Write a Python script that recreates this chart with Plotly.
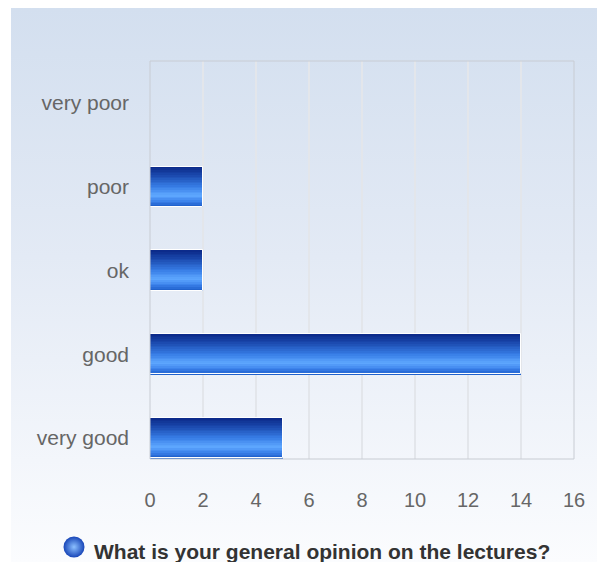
import plotly.graph_objects as go

# ---- data ----
categories = ["very good", "good", "ok", "poor", "very poor"]
counts = [5, 14, 2, 2, 0]
x_ticks = [0, 2, 4, 6, 8, 10, 12, 14, 16]
title_text = "What is your general opinion on the lectures?"

W, H = 597, 562
positions = list(range(len(categories)))

fig = go.Figure()

# ---- background panel with vertical gradient (pixel coordinate helper axes) ----
fig.add_trace(go.Scatter(
    x=[11, 597, 597, 11, 11], y=[8, 8, 562, 562, 8],
    fill="toself", mode="lines", line=dict(width=0),
    fillgradient=dict(type="vertical",
                      colorscale=[[0, "#fbfcfe"], [0.55, "#e3eaf5"], [1, "#d3dfef"]]),
    hoverinfo="skip", showlegend=False, xaxis="x", yaxis="y"))

# legend-like sphere icon next to the title
fig.add_trace(go.Scatter(
    x=[74], y=[547], mode="markers",
    marker=dict(size=21, color="#1846b8",
                gradient=dict(type="radial", color="#8cc0ff"),
                line=dict(width=0)),
    hoverinfo="skip", showlegend=False, xaxis="x", yaxis="y"))

# ---- bars built as thin horizontal strips to imitate the glossy gradient ----
stops = [(0.0, (10, 40, 135)), (0.2, (25, 70, 170)), (0.5, (55, 125, 230)),
         (0.72, (95, 168, 255)), (0.86, (60, 130, 235)), (1.0, (28, 92, 200))]

def colour_at(t):
    for (t0, c0), (t1, c1) in zip(stops[:-1], stops[1:]):
        if t0 <= t <= t1:
            f = (t - t0) / (t1 - t0) if t1 > t0 else 0
            return "rgb(%d,%d,%d)" % tuple(round(a + (b - a) * f) for a, b in zip(c0, c1))
    return "rgb(%d,%d,%d)" % stops[-1][1]

bar_w = 0.48
n_strips = 24
dw = bar_w / n_strips
for j in range(n_strips):
    top = bar_w / 2 - j * dw
    fig.add_trace(go.Bar(
        x=counts, y=positions, orientation="h",
        width=dw * 1.08, offset=top - dw * 1.04,
        marker=dict(color=colour_at((j + 0.5) / n_strips), line=dict(width=0)),
        hoverinfo="skip", showlegend=False, xaxis="x2", yaxis="y2"))

# white outline on top
fig.add_trace(go.Bar(
    x=counts, y=positions, orientation="h", width=bar_w, offset=-bar_w / 2,
    marker=dict(color="rgba(0,0,0,0)", line=dict(color="white", width=1)),
    hoverinfo="skip", showlegend=False, xaxis="x2", yaxis="y2"))

# plot frame
fig.add_shape(type="rect", xref="x2 domain", yref="y2 domain", x0=0, x1=1, y0=0, y1=1,
              line=dict(color="#c8ccd3", width=1), layer="above")
fig.add_shape(type="line", xref="x2 domain", yref="y2 domain", x0=0, x1=0, y0=0, y1=1,
              line=dict(color="#d0d7e2", width=2), layer="below")

# title annotation
fig.add_annotation(text="<b>" + title_text + "</b>", xref="paper", yref="paper",
                   x=92 / W, y=1 - 551 / H, xanchor="left", yanchor="middle",
                   showarrow=False,
                   font=dict(family="Liberation Sans, Arial", size=21, color="#333333"))

yfont = dict(family="Liberation Sans, Arial", size=21, color="#666666")
xfont = dict(family="Liberation Sans, Arial", size=20, color="#666666")

fig.update_layout(
    width=W, height=H, autosize=False, margin=dict(l=0, r=0, t=0, b=0),
    paper_bgcolor="white", plot_bgcolor="rgba(0,0,0,0)",
    barmode="overlay", bargap=0,
    xaxis=dict(domain=[0, 1], range=[0, W], visible=False, fixedrange=True),
    yaxis=dict(domain=[0, 1], range=[H, 0], visible=False, fixedrange=True),
    xaxis2=dict(domain=[150 / W, 574 / W], range=[0, 16], anchor="y2",
                tickvals=x_ticks, ticktext=[str(v) for v in x_ticks],
                showgrid=True, gridcolor="#e3e6eb", gridwidth=2,
                zeroline=False, showline=False, ticks="", tickfont=xfont,
                ticklabelstandoff=27, automargin=False),
    yaxis2=dict(domain=[1 - 459 / H, 1 - 61 / H], range=[-0.25, 4.5], anchor="x2",
                tickvals=positions, ticktext=categories, showgrid=False,
                zeroline=False, showline=False, ticks="", tickfont=yfont,
                ticklabelstandoff=20, automargin=False),
)

post = """
document.body.style.margin = '0';
document.body.style.padding = '0';
document.body.style.overflow = 'hidden';
"""
fig.write_html("out.html", config={"responsive": False, "displayModeBar": False},
               post_script=post)
